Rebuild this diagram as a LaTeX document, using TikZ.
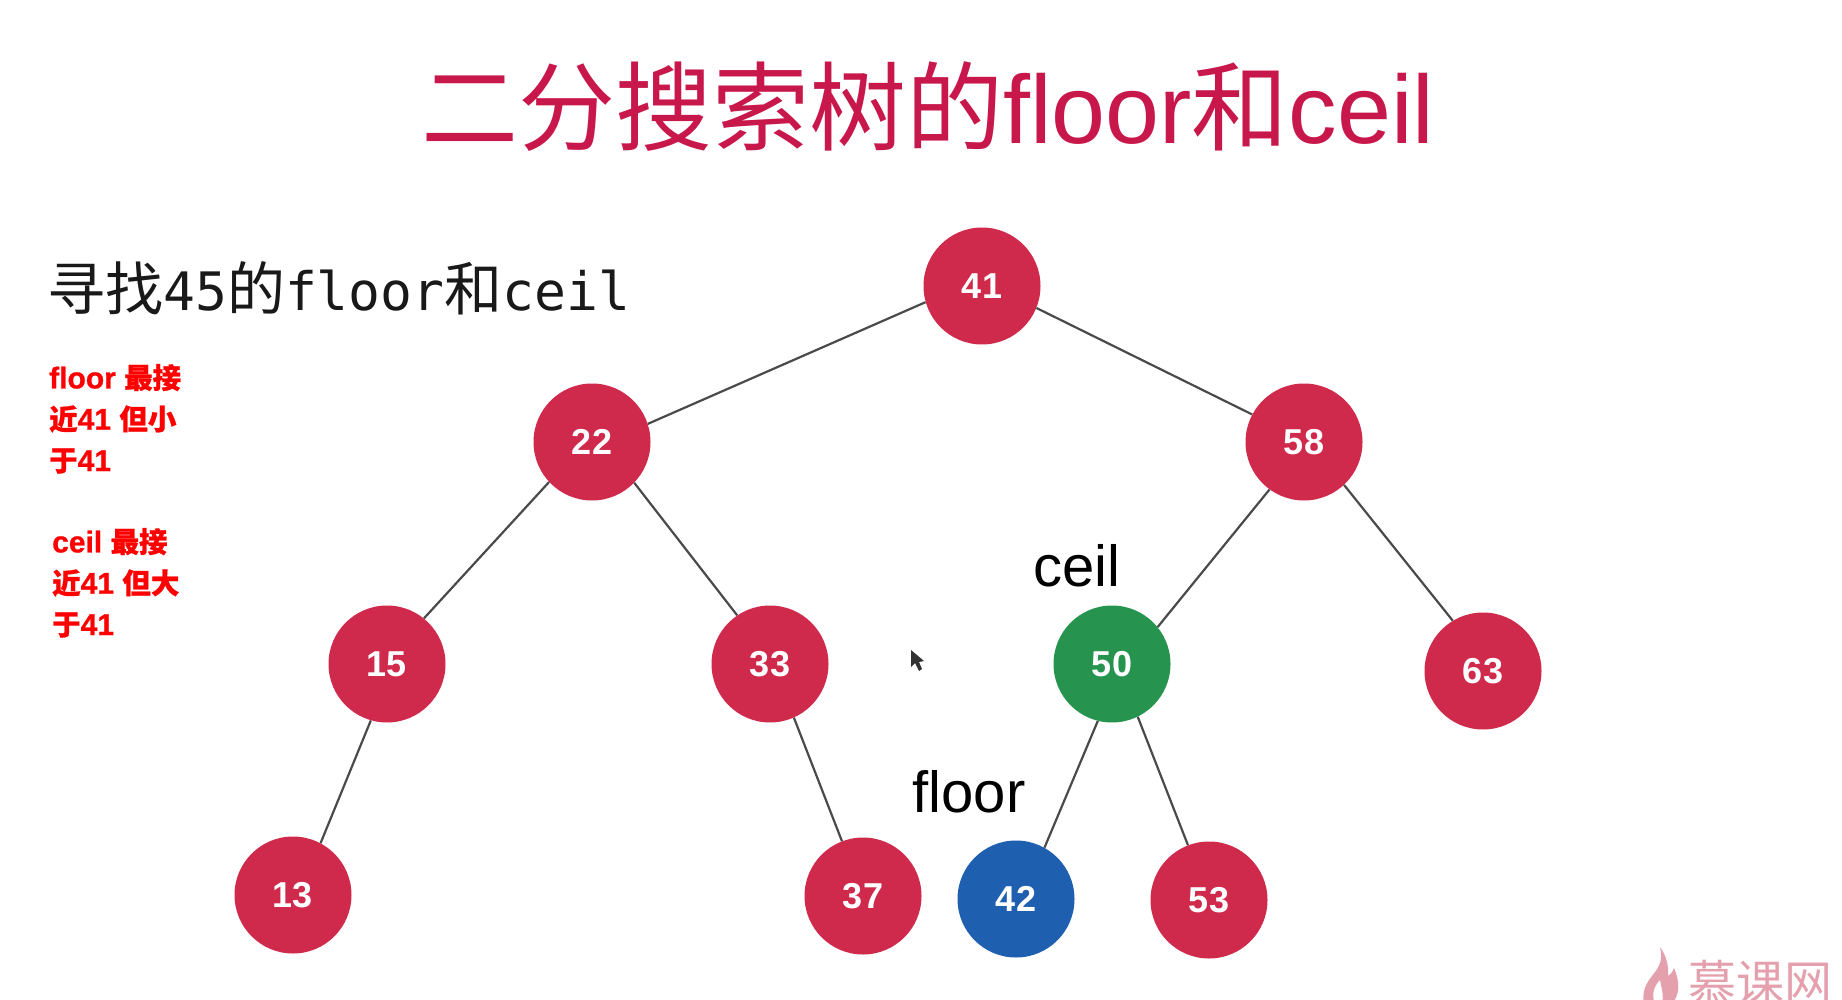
\documentclass[tikz,border=0pt]{standalone}
\usepackage{fontspec}
\setmainfont{Liberation Sans}
\newfontfamily\cjk{Noto Sans CJK SC}
\newfontfamily\monof{DejaVu Sans Mono}
\newfontfamily\notelat{Liberation Sans}[BoldFeatures={FakeBold=0.8}]
\newfontfamily\notecjk{Noto Sans CJK SC}[BoldFeatures={FakeBold=0.8}]
\newcommand{\notezh}[1]{{\notecjk\bfseries\fontsize{28.5}{41.3}\selectfont #1}}
\newcommand{\subzh}[1]{{\cjk\fontsize{58}{58}\selectfont #1}}
\definecolor{nodered}{HTML}{CF2A4C}
\definecolor{nodegreen}{HTML}{26934F}
\definecolor{nodeblue}{HTML}{1E5FB0}
\definecolor{titlered}{HTML}{C8174B}
\definecolor{edgegray}{HTML}{4A4A4A}
\definecolor{logopink}{HTML}{E5A0AE}
\tikzset{
  treenode/.style={circle,draw=none,fill=nodered,minimum size=117pt,inner sep=0pt,text=white,
    font=\fontsize{36}{36}\selectfont\bfseries},
  edge/.style={draw=edgegray,line width=2.2pt},
  tag/.style={anchor=base,text=black,font=\fontsize{58}{58}\selectfont,inner sep=0pt},
  redtext/.style={anchor=base west,inner sep=0pt,align=left,text=red,
    font=\notelat\bfseries\fontsize{30}{41.3}\selectfont},
}
\begin{document}
\begin{tikzpicture}[x=1pt,y=-1pt]
\useasboundingbox (0,0) rectangle (1842,1000);
\fill[white] (0,0) rectangle (1842,1000);
% title
\node[anchor=base west,inner sep=0pt,text=titlered,font=\fontsize{97}{97}\selectfont] (title) at (421,144)
  {{\cjk 二分搜索树的}floor{\cjk 和}ceil};
% subtitle
\node[anchor=base west,inner sep=0pt,text=black!90,font=\fontsize{53}{53}\selectfont\monof] (sub) at (47,311)
  {\subzh{寻找}45\subzh{的}floor\subzh{和}ceil};
% red notes
\node[redtext] (floornote) at (49,471) {floor \notezh{最接}\\\notezh{近}41 \notezh{但小}\\\notezh{于}41};
\node[redtext] (ceilnote) at (52,635) {ceil \notezh{最接}\\\notezh{近}41 \notezh{但大}\\\notezh{于}41};
% nodes
\node[treenode] (n41) at (982,286) {41};
\node[treenode] (n22) at (592,442) {22};
\node[treenode] (n58) at (1304,442) {58};
\node[treenode] (n15) at (387,664) {15};
\node[treenode] (n33) at (770,664) {33};
\node[treenode,fill=nodegreen] (n50) at (1112,664) {50};
\node[treenode] (n63) at (1483,671) {63};
\node[treenode] (n13) at (293,895) {13};
\node[treenode] (n37) at (863,896) {37};
\node[treenode,fill=nodeblue] (n42) at (1016,899) {42};
\node[treenode] (n53) at (1209,900) {53};
% edges
\draw[edge] (n41.196) -- (n22.18);
\draw[edge] (n41.-22) -- (n58.152);
\draw[edge] (n22.223) -- (n15.51);
\draw[edge] (n22.-44) -- (n33.124);
\draw[edge] (n58.234) -- (n50.39);
\draw[edge] (n58.-47) -- (n63.121);
\draw[edge] (n15.254) -- (n13.62);
\draw[edge] (n33.-66) -- (n37.111);
\draw[edge] (n50.256) -- (n42.61);
\draw[edge] (n50.-64) -- (n53.111);
% labels
\node[tag] (ceillabel) at (1077,586) {ceil};
\node[tag] (floorlabel) at (969,812) {floor};
% cursor
\fill[black!80] (911,650) -- (911,667) -- (915,663) -- (919,671) -- (922,669) -- (919,662) -- (924,661) -- cycle;
% logo
\begin{scope}
\clip (0,0) rectangle (1842,1000);
\fill[logopink,even odd rule] (1660,947) .. controls (1663,960) and (1660,966) .. (1652,976)
  .. controls (1645,985) and (1642,992) .. (1644,1004) -- (1655,1004)
  .. controls (1651,994) and (1654,986) .. (1660,980) .. controls (1662,990) and (1664,996) .. (1662,1004)
  -- (1672,1004) .. controls (1680,994) and (1680,982) .. (1674,968) .. controls (1672,973) and (1670,975) .. (1668,976)
  .. controls (1669,966) and (1666,955) .. (1660,947) -- cycle;
\node[anchor=base west,inner sep=0pt,text=logopink,font=\cjk\fontsize{48}{48}\selectfont] (logo) at (1688,1000) {慕课网};
\end{scope}
\end{tikzpicture}
\end{document}
